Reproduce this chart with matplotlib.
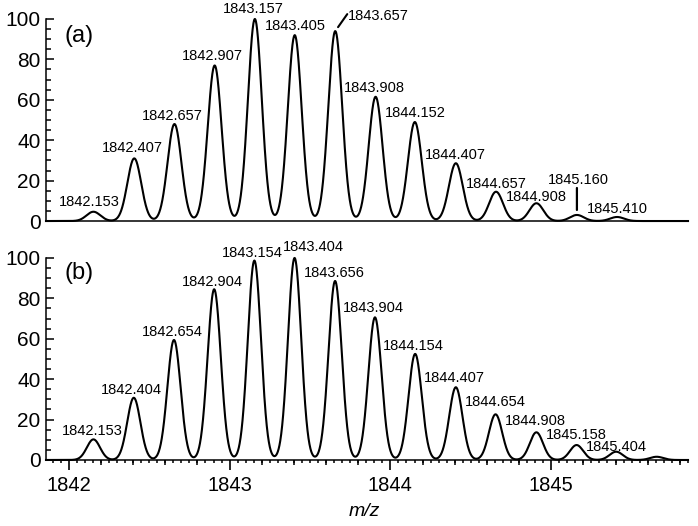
import numpy as np
import matplotlib
matplotlib.use("Agg")
import matplotlib.pyplot as plt
from matplotlib.ticker import MultipleLocator, FixedLocator

plt.rcParams['font.family'] = ['Liberation Sans', 'DejaVu Sans']

# ---------------- data ----------------
mz_a = [1842.153, 1842.407, 1842.657, 1842.907, 1843.157, 1843.405, 1843.657,
        1843.908, 1844.152, 1844.407, 1844.657, 1844.908, 1845.160, 1845.410]
int_a = [4.6, 31.0, 48.0, 77.0, 100.0, 92.0, 94.0, 61.5, 49.0, 28.6, 14.5, 8.8, 3.0, 2.0]
labels_a = ["1842.153", "1842.407", "1842.657", "1842.907", "1843.157", "1843.405",
            "1843.657", "1843.908", "1844.152", "1844.407", "1844.657", "1844.908",
            "1845.160", "1845.410"]

mz_b = [1842.153, 1842.404, 1842.654, 1842.904, 1843.154, 1843.404, 1843.656,
        1843.904, 1844.154, 1844.407, 1844.654, 1844.908, 1845.158, 1845.404, 1845.656]
int_b = [10.2, 30.8, 59.4, 84.5, 98.7, 100.0, 88.6, 70.6, 52.5, 36.0, 22.6, 13.7, 7.4, 4.1, 1.6]
labels_b = ["1842.153", "1842.404", "1842.654", "1842.904", "1843.154", "1843.404",
            "1843.656", "1843.904", "1844.154", "1844.407", "1844.654", "1844.908",
            "1845.158", "1845.404", ""]

xticks = [1842, 1843, 1844, 1845]
xtick_labels = ["1842", "1843", "1844", "1845"]
yticks = [0, 20, 40, 60, 80, 100]
panel_tags = ["(a)", "(b)"]

# ---------------- layout / style ----------------
W, H = 698, 526
PX = 0.72  # pixels -> points at 100 dpi
XLIM = (1841.858, 1845.851)
sigma_a, sigma_b = 0.043, 0.041

# label offsets in pixels (dx, dy) relative to peak top
off_a = [(-4, 6), (-2, 6), (-2, 4), (-2, 5), (-2, 6), (1, 5), None,
         (-1, 5), (0, 5), (0, 4), (0, 4), (0, 2.5), None, (0, 4)]
off_b = [(-1, 4.5), (-2, 4), (-1.5, 4), (-2, 3), (-2, 4), (19, 6.5), (-1, 3.5),
         (-2, 5.5), (-2, 4), (-1, 5.5), (0, 8), (-1, 7), (0, 5.7), (0, 1), None]
tag_pos = [(65, 36), (65, 273)]  # pixel positions from top-left

fig = plt.figure(figsize=(W / 100, H / 100), dpi=100)
ax_a = fig.add_axes([0.0659, 0.5798, 0.9198, 0.3841])
ax_b = fig.add_axes([0.0659, 0.1255, 0.9198, 0.3841])

x = np.linspace(XLIM[0], XLIM[1], 4000)


def trace(mz, inten, sigma):
    mz = np.asarray(mz)[:, None]
    inten = np.asarray(inten)[:, None]
    return (inten * np.exp(-(x[None, :] - mz) ** 2 / (2 * sigma ** 2))).sum(axis=0)


label_fs = 10.5
for ax, mz, inten, sig, labels, offs, tag, tp in [
        (ax_a, mz_a, int_a, sigma_a, labels_a, off_a, panel_tags[0], tag_pos[0]),
        (ax_b, mz_b, int_b, sigma_b, labels_b, off_b, panel_tags[1], tag_pos[1])]:
    ax.plot(x, trace(mz, inten, sig), color='black', lw=1.5, clip_on=False,
            solid_joinstyle='round')
    ax.set_xlim(*XLIM)
    ax.set_ylim(0, 100)
    for s in ['top', 'right']:
        ax.spines[s].set_visible(False)
    for s in ['left', 'bottom']:
        ax.spines[s].set_linewidth(1.1)
    ax.yaxis.set_major_locator(FixedLocator(yticks))
    ax.yaxis.set_minor_locator(MultipleLocator(5))
    ax.tick_params(axis='y', which='major', direction='in', length=5.5, width=1.1,
                   labelsize=15, pad=4)
    ax.tick_params(axis='y', which='minor', direction='in', length=3.8, width=1.1)
    fig.text(tp[0] / W, 1 - tp[1] / H, tag, fontsize=17, ha='left', va='center')
    ax.patch.set_visible(False)
    for m, h, lab, off in zip(mz, inten, labels, offs):
        if not lab or off is None:
            continue
        ax.annotate(lab, xy=(m, h), xytext=(off[0] * PX, off[1] * PX),
                    textcoords='offset points', ha='center', va='baseline',
                    fontsize=label_fs, annotation_clip=False)

# special labels in panel (a)
i = labels_a.index("1843.657")
ax_a.annotate("", xy=(mz_a[i], int_a[i]), xytext=(12 * PX, 17 * PX),
              textcoords='offset points',
              arrowprops=dict(arrowstyle='-', lw=1.5, shrinkA=0, shrinkB=3.5, color='black'),
              annotation_clip=False)
ax_a.annotate(labels_a[i], xy=(mz_a[i], int_a[i]), xytext=(13 * PX, 11 * PX),
              textcoords='offset points', ha='left', va='baseline', fontsize=label_fs,
              annotation_clip=False)
i = labels_a.index("1845.160")
ax_a.annotate("", xy=(mz_a[i], int_a[i]), xytext=(0, 27 * PX),
              textcoords='offset points',
              arrowprops=dict(arrowstyle='-', lw=1.6, shrinkA=0, shrinkB=3.6, color='black'),
              annotation_clip=False)
ax_a.annotate(labels_a[i], xy=(mz_a[i], int_a[i]), xytext=(1 * PX, 31 * PX),
              textcoords='offset points', ha='center', va='baseline', fontsize=label_fs,
              annotation_clip=False)

# top panel: no x ticks
ax_a.tick_params(axis='x', which='both', bottom=False, labelbottom=False)

# bottom panel x ticks
ax_b.xaxis.set_major_locator(FixedLocator(xticks))
ax_b.set_xticklabels(xtick_labels)
ax_b.xaxis.set_minor_locator(MultipleLocator(0.05))
ax_b.tick_params(axis='x', which='major', direction='out', length=7.5, width=1.2,
                 labelsize=14.5, pad=4)
ax_b.tick_params(axis='x', which='minor', direction='out', length=2.0, width=1.1)
mid = [v for v in np.round(np.arange(1841.8, 1846.0, 0.2), 1)
       if XLIM[0] <= v <= XLIM[1] and abs(v - round(v)) > 1e-6]
sec = ax_b.secondary_xaxis('bottom')
sec.spines['bottom'].set_visible(False)
sec.xaxis.set_major_locator(FixedLocator(mid))
sec.tick_params(axis='x', which='major', direction='out', length=3.8, width=1.1,
                labelbottom=False)
sec.tick_params(axis='x', which='minor', bottom=False)

fig.text(364 / W, 1 - 512 / H, "m/z", fontsize=14, style='italic',
         ha='center', va='center')

fig.savefig("out.png", dpi=100)
